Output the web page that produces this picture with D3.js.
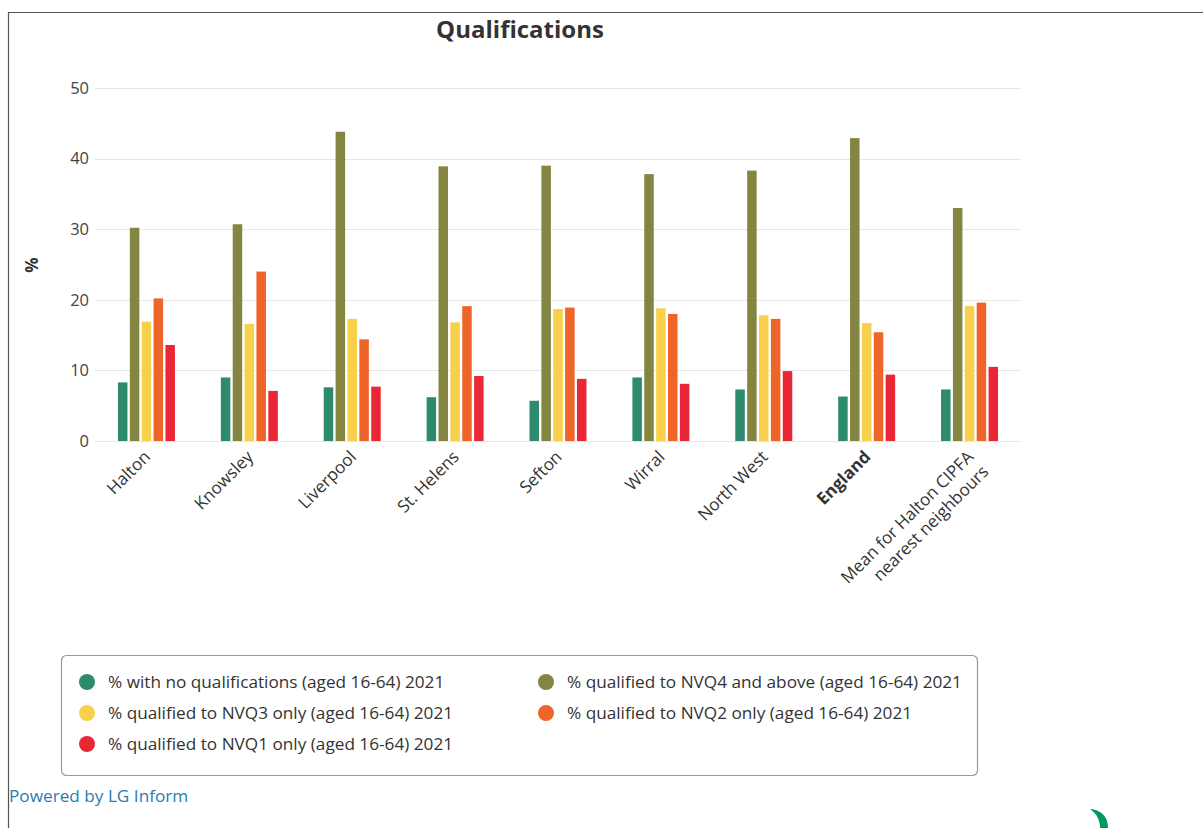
<!DOCTYPE html>
<html>
<head>
<meta charset="utf-8">
<script src="https://cdnjs.cloudflare.com/ajax/libs/d3/7.8.5/d3.min.js"></script>
<style>
  html, body { margin: 0; padding: 0; background: #fff; }
  svg { display: block; font-family: "Open Sans", sans-serif; }
</style>
</head>
<body>
<script>
// categories (areas) along the x axis
const areas = ["Halton", "Knowsley", "Liverpool", "St. Helens", "Sefton", "Wirral", "North West", "England", "Mean for Halton CIPFA nearest neighbours"];

// series names as shown in the legend
const seriesNames = [
  "% with no qualifications (aged 16-64) 2021",
  "% qualified to NVQ4 and above (aged 16-64) 2021",
  "% qualified to NVQ3 only (aged 16-64) 2021",
  "% qualified to NVQ2 only (aged 16-64) 2021",
  "% qualified to NVQ1 only (aged 16-64) 2021"
];

// values per series, one per area
const noQuals = [8.3, 9.0, 7.6, 6.2, 5.7, 9.0, 7.3, 6.3, 7.3];
const nvq4 = [30.2, 30.7, 43.8, 38.9, 39.0, 37.8, 38.3, 42.9, 33.0];
const nvq3 = [16.9, 16.6, 17.3, 16.8, 18.7, 18.8, 17.8, 16.7, 19.1];
const nvq2 = [20.2, 24.0, 14.4, 19.1, 18.9, 18.0, 17.3, 15.4, 19.6];
const nvq1 = [13.6, 7.1, 7.7, 9.2, 8.8, 8.1, 9.9, 9.4, 10.5];

const yTicks = [0, 10, 20, 30, 40, 50];

const seriesValues = [noQuals, nvq4, nvq3, nvq2, nvq1];
const colors = ["#2d8a6c", "#838541", "#f8d04c", "#ee6429", "#e92737"];

const W = 1203, H = 828;
const margin = { left: 95, right: 182, top: 88, bottom: 387 };
const chartW = W - margin.left - margin.right;
const chartH = H - margin.top - margin.bottom;

const svg = d3.select("body").append("svg")
  .attr("width", W)
  .attr("height", H);

// outer frame (top and left edges visible)
svg.append("path")
  .attr("d", `M8.5,${H} L8.5,12.5 L${W},12.5`)
  .attr("fill", "none")
  .attr("stroke", "#555")
  .attr("stroke-width", 1.2);

// title
svg.append("text")
  .attr("x", 520)
  .attr("y", 38)
  .attr("text-anchor", "middle")
  .attr("font-size", 24)
  .attr("font-weight", "bold")
  .attr("fill", "#333")
  .text("Qualifications");

const g = svg.append("g").attr("transform", `translate(${margin.left},${margin.top})`);

const x0 = d3.scaleBand().domain(areas).range([0, chartW]).paddingInner(0).paddingOuter(0);
const groupInner = 0.6; // share of the band used by the bars
const x1 = d3.scaleBand()
  .domain(d3.range(seriesNames.length))
  .range([x0.bandwidth() * (1 - groupInner) / 2, x0.bandwidth() * (1 + groupInner) / 2])
  .padding(0.2);
const y = d3.scaleLinear().domain([0, 50]).range([chartH, 0]);

// grid lines
g.append("g")
  .selectAll("line")
  .data(yTicks)
  .join("line")
  .attr("x1", 0)
  .attr("x2", chartW)
  .attr("y1", d => Math.round(y(d)) + 0.5)
  .attr("y2", d => Math.round(y(d)) + 0.5)
  .attr("stroke", "#e6e6e6")
  .attr("stroke-width", 1);

// y axis labels
const yAxis = g.append("g")
  .call(d3.axisLeft(y).tickValues(yTicks).tickSize(0).tickPadding(6));
yAxis.select(".domain").remove();
yAxis.selectAll("text")
  .attr("font-family", "Open Sans, sans-serif")
  .attr("font-size", 16.5)
  .attr("fill", "#444");

svg.append("text")
  .attr("transform", "translate(38,265) rotate(-90)")
  .attr("text-anchor", "middle")
  .attr("font-size", 17)
  .attr("font-weight", "bold")
  .attr("fill", "#333")
  .text("%");

// bars
const groups = g.append("g")
  .selectAll("g")
  .data(areas)
  .join("g")
  .attr("transform", d => `translate(${x0(d)},0)`);

groups.selectAll("rect")
  .data((d, i) => seriesValues.map((vals, s) => ({ s, v: vals[i] })))
  .join("rect")
  .attr("x", d => x1(d.s))
  .attr("width", x1.bandwidth())
  .attr("y", d => y(d.v))
  .attr("height", d => y(0) - y(d.v))
  .attr("fill", d => colors[d.s]);

// x axis labels, rotated
const xLabels = g.append("g")
  .selectAll("text")
  .data(areas)
  .join("text")
  .attr("transform", d => `translate(${x0(d) + x0.bandwidth() / 2 + 5},${chartH + 17}) rotate(-45)`)
  .attr("text-anchor", "end")
  .attr("font-size", 17)
  .attr("fill", "#333")
  .attr("font-weight", d => d === "England" ? "bold" : "normal");

xLabels.each(function (d) {
  const t = d3.select(this);
  if (d.startsWith("Mean")) {
    t.append("tspan").attr("x", 0).attr("dy", 0).text("Mean for Halton CIPFA");
    t.append("tspan").attr("x", 0).attr("dy", 21).text("nearest neighbours");
  } else {
    t.text(d);
  }
});

// legend
const legend = svg.append("g");
legend.append("rect")
  .attr("x", 61.5)
  .attr("y", 655.5)
  .attr("width", 916)
  .attr("height", 120)
  .attr("rx", 5)
  .attr("fill", "#fff")
  .attr("stroke", "#999")
  .attr("stroke-width", 1.2);

const legendCols = [87, 546];
const legendRows = [682, 713, 744];
const items = legend.selectAll("g.item")
  .data(seriesNames)
  .join("g")
  .attr("class", "item")
  .attr("transform", (d, i) => `translate(${legendCols[i % 2]},${legendRows[Math.floor(i / 2)]})`);
items.append("circle")
  .attr("r", 8)
  .attr("fill", (d, i) => colors[i]);
items.append("text")
  .attr("x", 21)
  .attr("y", 6)
  .attr("font-size", 17.2)
  .attr("fill", "#333")
  .text(d => d);

// footer link
svg.append("text")
  .attr("x", 9)
  .attr("y", 802)
  .attr("font-size", 17.2)
  .attr("fill", "#2a7db4")
  .text("Powered by LG Inform");

// partial logo at the bottom right
svg.append("path")
  .attr("d", "M1090,809 C1101,810 1108,816 1108,828 L1100,828 C1100,820 1097,814 1090,809 Z")
  .attr("fill", "#009a5c");
</script>
</body>
</html>
